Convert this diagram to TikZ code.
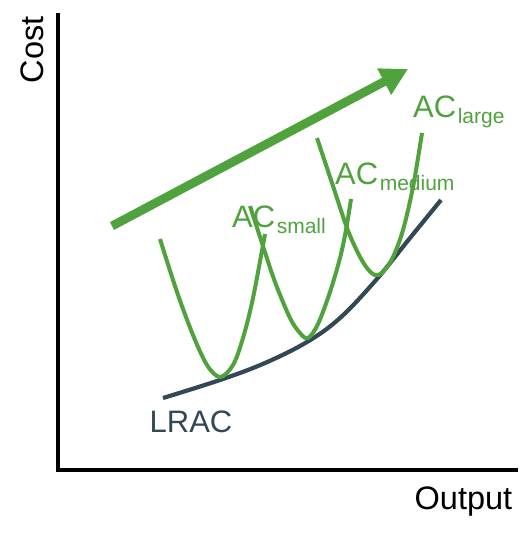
\documentclass[tikz,border=0pt]{standalone}
\usepackage{fontspec}
\setmainfont{Liberation Sans}
\usetikzlibrary{arrows.meta}
\definecolor{acgreen}{RGB}{80,162,60}
\definecolor{lracc}{RGB}{50,72,84}
\begin{document}
\begin{tikzpicture}[x=1pt,y=-1pt,
  axisline/.style={line width=4pt, line join=miter},
  accurve/.style={draw=acgreen, line width=4pt, line join=round},
  lraccurve/.style={draw=lracc, line width=4.2pt},
  bigarrow/.style={draw=acgreen, line width=8.8pt, -{Triangle[length=27pt,width=28pt]}},
  axislbl/.style={inner sep=0pt, anchor=base west, font=\fontsize{32.5}{32.5}\selectfont},
  aclbl/.style={inner sep=0pt, anchor=base west, text=acgreen, font=\fontsize{31}{31}\selectfont},
  lraclbl/.style={inner sep=0pt, anchor=base west, text=lracc, font=\fontsize{31}{31}\selectfont}]
\useasboundingbox (0,0) rectangle (532,538);
% axes
\coordinate (ytop) at (58,13);
\coordinate (origin) at (58,469.5);
\coordinate (xend) at (518,469.5);
\draw[axisline] (ytop) -- (origin) -- (xend);
\node[axislbl, rotate=90] (cost) at (43.3,83.5) {Cost};
\node[axislbl] (output) at (414.5,509) {Output};
% big arrow
\coordinate (arrS) at (112,226);
\coordinate (arrE) at (408,69);
\draw[bigarrow] (arrS) -- (arrE);
% LRAC
\draw[lraccurve] plot[smooth, tension=0.6] coordinates {(163,398) (220,380) (265,363) (307,342) (340,318) (376,280) (410,238) (441,200)};
% AC curves
\draw[accurve] plot[smooth, tension=0.55] coordinates {(160,239) (177,292) (193,335) (207,365) (220,377) (233,365) (243,338) (253,298) (265,234)};
\draw[accurve] plot[smooth, tension=0.55] coordinates {(250,206) (262,243) (275,282) (290,318) (300,333) (308,338) (318,324) (330,292) (340,258) (346,230) (351,199)};
\draw[accurve] plot[smooth, tension=0.55] coordinates {(317,138) (332,183) (347,228) (358,253) (367,268) (375,275) (383,272) (393,257) (403,230) (413,187) (422,133)};
% labels
\node[aclbl] (acs) at (232,227) {AC\hspace{1.5pt}{\fontsize{21}{21}\selectfont\raisebox{-6pt}{small}}};
\node[aclbl] (acm) at (335,184) {AC\hspace{1.5pt}{\fontsize{21}{21}\selectfont\raisebox{-6pt}{medium}}};
\node[aclbl] (acl) at (413,117) {AC\hspace{1.5pt}{\fontsize{21}{21}\selectfont\raisebox{-6pt}{large}}};
\node[lraclbl] (lrac) at (149.5,432) {LRAC};
\end{tikzpicture}
\end{document}
